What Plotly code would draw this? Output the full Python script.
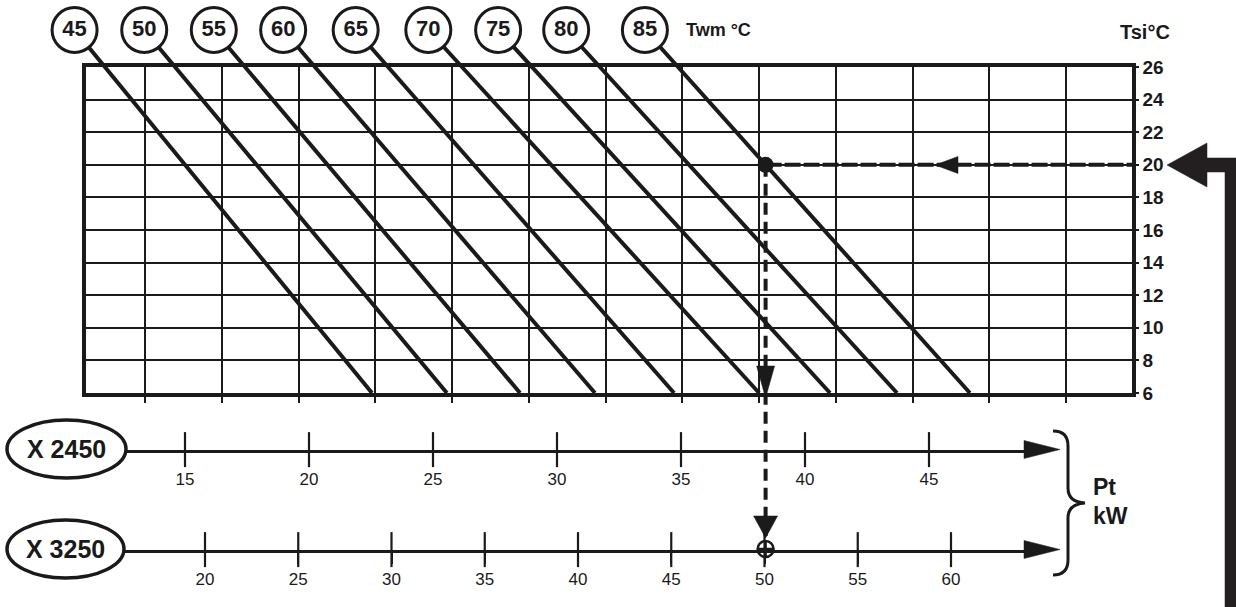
import plotly.graph_objects as go

# ---------------- data ----------------
twm = [45, 50, 55, 60, 65, 70, 75, 80, 85]                 # Twm °C curves
pt_at_tsi26 = [11.77, 14.60, 17.42, 20.24, 23.19, 26.17, 28.99, 31.73, 34.88]   # Pt (X 2450 scale) at Tsi = 26
pt_at_tsi6 = [22.54, 25.56, 28.51, 31.53, 34.72, 38.15, 41.01, 43.71, 46.65]    # Pt (X 2450 scale) at Tsi = 6
tsi_top, tsi_bottom = 26, 6
tsi_ticks = [6, 8, 10, 12, 14, 16, 18, 20, 22, 24, 26]
pt2450_ticks = [15, 20, 25, 30, 35, 40, 45]
pt3250_ticks = [20, 25, 30, 35, 40, 45, 50, 55, 60]
example_twm, example_tsi = 85, 20

# ---------------- geometry (pixels) ----------------
W, H = 1236, 607
GL, GR, GT, GB = 86, 1132, 67, 393
INK = "#1a1a1a"
FONT = "Liberation Sans, Arial, sans-serif"


def v(p):      # pixel x -> Pt on X 2450 scale
    return 15 + (p - 185) / 24.8


def u(p):      # pixel x -> Pt on X 3250 scale
    return 20 + (p - 205) / 18.65


def T(p):      # pixel y -> Tsi
    return 6 + (GB - p) / ((GB - GT) / 20)


def X(p):
    return p / W


def Y(p):
    return 1 - p / H


def pxv(val):  # Pt(2450) -> pixel x
    return 185 + (val - 15) * 24.8


tsi_circle = T(30)


def pt_on_line(i, tsi):
    a, b = pt_at_tsi26[i], pt_at_tsi6[i]
    return a + (b - a) * (tsi_top - tsi) / (tsi_top - tsi_bottom)


fig = go.Figure()

# diagonal Twm lines (canvas subplot covers whole image)
lx, ly = [], []
cx, cy = [], []
for i in range(len(twm)):
    lx += [pt_on_line(i, tsi_circle), pt_at_tsi6[i], None]
    ly += [tsi_circle, tsi_bottom, None]
    cx.append(pt_on_line(i, tsi_circle))
    cy.append(tsi_circle)
fig.add_trace(go.Scatter(x=lx, y=ly, mode="lines", line=dict(color=INK, width=4),
                         xaxis="x", yaxis="y", hoverinfo="skip", showlegend=False))
fig.add_trace(go.Scatter(x=cx, y=cy, mode="markers+text", text=[str(t) for t in twm],
                         textposition="middle center",
                         textfont=dict(family=FONT, size=22, color=INK, weight="bold"),
                         marker=dict(symbol="circle", size=45, color="white",
                                     line=dict(color=INK, width=3)),
                         cliponaxis=False, xaxis="x", yaxis="y", hoverinfo="skip", showlegend=False))

# example reading
ei = twm.index(example_twm)
pt_ex = pt_on_line(ei, example_tsi)
px_ex = pxv(pt_ex)
fig.add_trace(go.Scatter(x=[pt_ex, pt_ex], y=[example_tsi, T(536)], mode="lines",
                         line=dict(color=INK, width=4, dash="12px,7px"),
                         xaxis="x", yaxis="y", hoverinfo="skip", showlegend=False))
fig.add_trace(go.Scatter(x=[pt_ex, v(GR)], y=[example_tsi, example_tsi], mode="lines",
                         line=dict(color=INK, width=4, dash="16px,3px"),
                         xaxis="x2", yaxis="y2", hoverinfo="skip", showlegend=False))
fig.add_trace(go.Scatter(x=[pt_ex], y=[example_tsi], mode="markers",
                         marker=dict(size=16, color=INK), cliponaxis=False,
                         xaxis="x", yaxis="y", hoverinfo="skip", showlegend=False))
fig.add_trace(go.Scatter(x=[pt_ex], y=[T(549)], mode="markers",
                         marker=dict(symbol="circle-cross-open", size=16, color=INK,
                                     line=dict(width=2.5, color=INK)),
                         cliponaxis=False, xaxis="x", yaxis="y", hoverinfo="skip", showlegend=False))

# crossing tick marks on the two Pt scales
fig.add_trace(go.Scatter(x=pt2450_ticks, y=[0.5] * len(pt2450_ticks), mode="markers",
                         marker=dict(symbol="line-ns-open", size=25, color=INK,
                                     line=dict(width=2.2, color=INK)),
                         cliponaxis=False, xaxis="x3", yaxis="y3", hoverinfo="skip", showlegend=False))
fig.add_trace(go.Scatter(x=pt3250_ticks, y=[0.5] * len(pt3250_ticks), mode="markers",
                         marker=dict(symbol="line-ns-open", size=25, color=INK,
                                     line=dict(width=2.2, color=INK)),
                         cliponaxis=False, xaxis="x4", yaxis="y4", hoverinfo="skip", showlegend=False))

# ---------------- shapes ----------------
shapes = []


def poly(points, color=INK):
    d = "M " + " L ".join(f"{X(a):.5f},{Y(b):.5f}" for a, b in points) + " Z"
    shapes.append(dict(type="path", xref="paper", yref="paper", path=d,
                       fillcolor=color, line=dict(color=color, width=0.5), layer="above"))


# arrowheads on reading lines
poly([(px_ex - 9, 366), (px_ex + 9, 366), (px_ex, 398)])
poly([(px_ex - 12, 516), (px_ex + 12, 516), (px_ex, 538)])
poly([(935, 165), (958, 156.5), (958, 173.5)])
# axis arrowheads
poly([(1024, 440.5), (1060, 449.5), (1024, 458.5)])
poly([(1024, 540.5), (1060, 549.5), (1024, 558.5)])
# big L arrow at right
poly([(1167, 165), (1207, 143), (1207, 158), (1237, 158), (1237, 608), (1225, 608),
      (1225, 172), (1207, 172), (1207, 187)], color="#231f20")

# ellipses
for (x0, x1, y0, y1) in [(7, 126, 420, 478), (7, 124, 520, 578)]:
    shapes.append(dict(type="circle", xref="paper", yref="paper",
                       x0=X(x0), x1=X(x1), y0=Y(y1), y1=Y(y0),
                       line=dict(color=INK, width=3.5), fillcolor="white", layer="above"))

# brace
bp = [("M", 1053, 431), ("Q", 1068, 431), ("", 1068, 446), ("L", 1068, 488),
      ("Q", 1068, 502), ("", 1085, 503), ("Q", 1068, 504), ("", 1068, 518),
      ("L", 1068, 560), ("Q", 1068, 575), ("", 1053, 575)]
path = " ".join(f"{c} {X(a):.5f},{Y(b):.5f}".strip() for c, a, b in bp)
shapes.append(dict(type="path", xref="paper", yref="paper", path=path,
                   line=dict(color=INK, width=3), layer="above"))

# ---------------- annotations ----------------
ann = []


def text(s, x, y, size, xanchor="center"):
    ann.append(dict(text=s, x=X(x), y=Y(y), xref="paper", yref="paper", showarrow=False,
                    xanchor=xanchor, yanchor="middle",
                    font=dict(family=FONT, size=size, color=INK, weight="bold")))


text("Twm °C", 684, 30, 18, "left")
text("Tsi°C", 1145, 32, 20)
text("X 2450", 66, 449, 25)
text("X 3250", 65, 549, 25)
text("Pt", 1091, 487, 23, "left")
text("kW", 1091, 516, 23, "left")

# ---------------- layout ----------------
grid_tick0 = v(145)
grid_dtick = (1066 - 145) / 12 / 24.8

fig.update_layout(
    width=W, height=H, autosize=False,
    margin=dict(l=0, r=0, t=0, b=0, pad=0, autoexpand=False),
    paper_bgcolor="white", plot_bgcolor="rgba(0,0,0,0)",
    showlegend=False,
    shapes=shapes, annotations=ann,
    # canvas
    xaxis=dict(domain=[0, 1], range=[v(0), v(W)], visible=False, fixedrange=True),
    yaxis=dict(domain=[0, 1], range=[T(H), T(0)], visible=False, fixedrange=True),
    # main grid
    xaxis2=dict(domain=[X(GL), X(GR)], range=[v(GL), v(GR)], anchor="y2",
                showline=True, linewidth=3.5, linecolor=INK, mirror=True,
                showgrid=True, gridcolor=INK, gridwidth=1.6,
                tickmode="linear", tick0=grid_tick0, dtick=grid_dtick,
                ticks="outside", ticklen=6, tickwidth=1.6, tickcolor=INK,
                showticklabels=False, zeroline=False, fixedrange=True),
    yaxis2=dict(domain=[Y(GB), Y(GT)], range=[tsi_bottom, tsi_top], anchor="x2", side="right",
                showline=True, linewidth=3.5, linecolor=INK, mirror=True,
                showgrid=True, gridcolor=INK, gridwidth=2.4,
                tickmode="array", tickvals=tsi_ticks, ticktext=[str(t) for t in tsi_ticks],
                ticks="outside", ticklen=3, tickwidth=1.6, tickcolor=INK,
                tickfont=dict(family=FONT, size=19, color=INK, weight="bold"),
                zeroline=False, fixedrange=True),
    # X 2450 scale
    xaxis3=dict(domain=[X(127), X(1040)], range=[v(127), v(1040)], anchor="y3",
                showline=True, linewidth=2.5, linecolor=INK,
                showgrid=False, zeroline=False,
                tickmode="array", tickvals=pt2450_ticks, ticktext=[str(t) for t in pt2450_ticks],
                ticks="outside", ticklen=12, tickwidth=2.2, tickcolor=INK,
                tickfont=dict(family=FONT, size=17, color=INK), fixedrange=True),
    yaxis3=dict(domain=[Y(449.5) - 0.0004, Y(449.5)], range=[0, 1], anchor="x3", visible=False, fixedrange=True),
    # X 3250 scale
    xaxis4=dict(domain=[X(124), X(1040)], range=[u(124), u(1040)], anchor="y4",
                showline=True, linewidth=2.5, linecolor=INK,
                showgrid=False, zeroline=False,
                tickmode="array", tickvals=pt3250_ticks, ticktext=[str(t) for t in pt3250_ticks],
                ticks="outside", ticklen=12, tickwidth=2.2, tickcolor=INK,
                tickfont=dict(family=FONT, size=17, color=INK), fixedrange=True),
    yaxis4=dict(domain=[Y(549.5) - 0.0004, Y(549.5)], range=[0, 1], anchor="x4", visible=False, fixedrange=True),
)

fig.write_html("out.html",
               post_script="document.body.style.margin='0px';"
                           "document.documentElement.style.overflow='hidden';")
